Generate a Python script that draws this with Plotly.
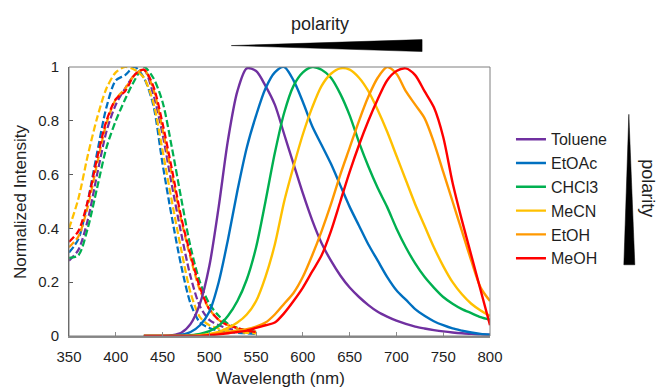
import plotly.graph_objects as go

# ---------------- data ----------------
solvents = ["Toluene", "EtOAc", "CHCl3", "MeCN", "EtOH", "MeOH"]
colors = ["#7030A0", "#0070C0", "#00B050", "#FFC000", "#FF9900", "#FF0000"]

# excitation spectra (dashed), 350-550 nm
ex_wl = [350, 360, 370, 380, 390, 400, 410, 420, 430, 440, 450,
         460, 470, 480, 490, 500, 510, 520, 530, 540, 550]
ex_toluene = [0.28, 0.32, 0.43, 0.60, 0.76, 0.86, 0.92, 0.97, 0.99, 0.90, 0.75,
              0.56, 0.38, 0.22, 0.11, 0.06, 0.04, 0.028, 0.02, 0.015, 0.01]
ex_etoac = [0.31, 0.36, 0.50, 0.68, 0.85, 0.95, 0.97, 1.00, 0.96, 0.86, 0.64,
            0.44, 0.26, 0.12, 0.05, 0.03, 0.02, 0.015, 0.012, 0.01, 0.008]
ex_chcl3 = [0.29, 0.30, 0.40, 0.55, 0.70, 0.80, 0.88, 0.95, 1.00, 0.96, 0.87,
            0.70, 0.51, 0.33, 0.20, 0.12, 0.075, 0.045, 0.03, 0.02, 0.015]
ex_mecn = [0.40, 0.51, 0.67, 0.81, 0.92, 0.98, 1.00, 0.99, 0.96, 0.87, 0.69,
           0.50, 0.32, 0.16, 0.07, 0.04, 0.028, 0.02, 0.015, 0.012, 0.01]
ex_etoh = [0.33, 0.37, 0.48, 0.64, 0.79, 0.88, 0.92, 0.97, 0.99, 0.92, 0.77,
           0.60, 0.43, 0.29, 0.17, 0.10, 0.06, 0.04, 0.028, 0.02, 0.015]
ex_meoh = [0.35, 0.39, 0.50, 0.66, 0.80, 0.88, 0.91, 0.97, 0.99, 0.93, 0.79,
           0.62, 0.44, 0.30, 0.18, 0.10, 0.06, 0.04, 0.03, 0.02, 0.015]

# emission spectra (solid), 430-800 nm
em_wl = [430, 440, 450, 460, 470, 480, 490, 500, 510, 520, 530, 540, 550,
         560, 570, 580, 590, 600, 610, 620, 630, 640, 650, 660, 670, 680,
         690, 700, 710, 720, 730, 740, 750, 760, 770, 780, 790, 800]
em_toluene = [0, 0, 0, 0.003, 0.012, 0.045, 0.12, 0.26, 0.48, 0.73, 0.91, 0.995, 0.985,
              0.93, 0.86, 0.75, 0.64, 0.53, 0.43, 0.345, 0.28, 0.225, 0.18, 0.145, 0.115, 0.09,
              0.072, 0.057, 0.045, 0.035, 0.028, 0.022, 0.017, 0.013, 0.01, 0.008, 0.006, 0.005]
em_etoac = [0, 0, 0, 0, 0.005, 0.015, 0.04, 0.09, 0.20, 0.36, 0.54, 0.70, 0.82,
            0.92, 0.98, 1.00, 0.95, 0.87, 0.78, 0.71, 0.64, 0.56, 0.48, 0.41, 0.34, 0.28,
            0.22, 0.17, 0.135, 0.10, 0.075, 0.055, 0.04, 0.028, 0.02, 0.013, 0.008, 0.005]
em_chcl3 = [0, 0, 0, 0, 0, 0.003, 0.008, 0.018, 0.038, 0.075, 0.13, 0.21, 0.33,
            0.50, 0.68, 0.83, 0.93, 0.98, 1.00, 0.99, 0.96, 0.90, 0.82, 0.72, 0.63, 0.55,
            0.48, 0.40, 0.33, 0.27, 0.22, 0.18, 0.145, 0.12, 0.10, 0.085, 0.07, 0.06]
em_mecn = [0, 0, 0, 0, 0, 0, 0.003, 0.008, 0.015, 0.03, 0.05, 0.08, 0.13,
           0.22, 0.34, 0.50, 0.63, 0.75, 0.85, 0.93, 0.975, 0.995, 0.99, 0.96, 0.91, 0.84,
           0.76, 0.67, 0.58, 0.49, 0.41, 0.33, 0.26, 0.20, 0.155, 0.12, 0.095, 0.075]
em_etoh = [0, 0, 0, 0, 0, 0, 0, 0.005, 0.01, 0.015, 0.02, 0.025, 0.035,
           0.05, 0.08, 0.12, 0.16, 0.22, 0.30, 0.39, 0.49, 0.60, 0.70, 0.80, 0.89, 0.96,
           1.00, 0.975, 0.91, 0.86, 0.81, 0.72, 0.61, 0.50, 0.39, 0.28, 0.18, 0.13]
em_meoh = [0, 0, 0, 0, 0, 0, 0, 0.003, 0.006, 0.01, 0.015, 0.02, 0.03,
           0.04, 0.05, 0.085, 0.13, 0.18, 0.24, 0.30, 0.39, 0.50, 0.61, 0.71, 0.80, 0.88,
           0.95, 0.985, 0.995, 0.97, 0.91, 0.85, 0.74, 0.57, 0.43, 0.30, 0.17, 0.04]

x_ticks = [350, 400, 450, 500, 550, 600, 650, 700, 750, 800]
y_ticks = [0, 0.2, 0.4, 0.6, 0.8, 1]

ex_series = [ex_toluene, ex_etoac, ex_chcl3, ex_mecn, ex_etoh, ex_meoh]
em_series = [em_toluene, em_etoac, em_chcl3, em_mecn, em_etoh, em_meoh]

FONT = "Arial, Liberation Sans, sans-serif"
TXT = "#1f1f1f"

fig = go.Figure()
for name, col, ys in zip(solvents, colors, ex_series):
    fig.add_trace(go.Scatter(x=ex_wl, y=ys, mode="lines", showlegend=False,
                             line=dict(color=col, width=2.25, dash="7px,3px",
                                       shape="spline", smoothing=0.8),
                             hoverinfo="skip"))
for name, col, ys in zip(solvents, colors, em_series):
    fig.add_trace(go.Scatter(x=em_wl, y=ys, mode="lines", name=name,
                             line=dict(color=col, width=2.4,
                                       shape="spline", smoothing=0.8)))

L, R, T, B = 68.5, 490, 66.5, 336.5
W, H = 657, 388
def px(x):
    return (x - L) / (R - L)
def py(y):
    return (B - y) / (B - T)

fig.update_layout(
    width=W, height=H,
    margin=dict(l=L, r=W - R, t=T, b=H - B, pad=0),
    paper_bgcolor="white", plot_bgcolor="white",
    font=dict(family=FONT, color=TXT, size=15),
    xaxis=dict(range=[350, 800], tickvals=x_ticks, ticks="inside", ticklen=4,
               tickcolor="#8c8c8c", showgrid=False, zeroline=False,
               showline=True, linecolor="#8c8c8c", linewidth=2,
               tickfont=dict(size=15, color=TXT), ticklabelstandoff=6),
    yaxis=dict(range=[0, 1], tickvals=y_ticks, ticks="inside", ticklen=4,
               tickcolor="#595959", showgrid=False, zeroline=False,
               showline=True, linecolor="#595959", linewidth=1,
               tickfont=dict(size=15, color=TXT), ticklabelstandoff=6),
    legend=dict(x=px(511), y=py(122), xanchor="left", yanchor="top",
                font=dict(size=16, color=TXT), bgcolor="rgba(0,0,0,0)",
                borderwidth=0, itemwidth=30),
    shapes=[
        dict(type="rect", xref="paper", yref="paper", x0=0, x1=1, y0=0, y1=1,
             line=dict(color="#7f7f7f", width=1), layer="above"),
        dict(type="path", xref="paper", yref="paper",
             path=f"M {px(231)},{py(45)} L {px(422)},{py(39)} L {px(422)},{py(51)} Z",
             fillcolor="black", line=dict(color="black", width=0.5)),
        dict(type="path", xref="paper", yref="paper",
             path=f"M {px(629)},{py(114)} L {px(635)},{py(265)} L {px(624)},{py(265)} Z",
             fillcolor="black", line=dict(color="black", width=0.5)),
    ],
    annotations=[
        dict(text="polarity", xref="paper", yref="paper", x=px(320), y=py(23),
             showarrow=False, font=dict(size=18, color=TXT), xanchor="center", yanchor="middle"),
        dict(text="polarity", xref="paper", yref="paper", x=px(648), y=py(188),
             showarrow=False, textangle=90, font=dict(size=18, color=TXT),
             xanchor="center", yanchor="middle"),
        dict(text="Normalized Intensity", xref="paper", yref="paper", x=px(20), y=0.5,
             showarrow=False, textangle=-90, font=dict(size=17, color=TXT),
             xanchor="center", yanchor="middle"),
        dict(text="Wavelength (nm)", xref="paper", yref="paper", x=px(280), y=py(379.5),
             showarrow=False, font=dict(size=17, color=TXT),
             xanchor="center", yanchor="middle"),
    ],
)

fig.write_html("out.html", config={"displayModeBar": False},
               post_script="document.body.style.margin='0';document.body.style.overflow='hidden';")
